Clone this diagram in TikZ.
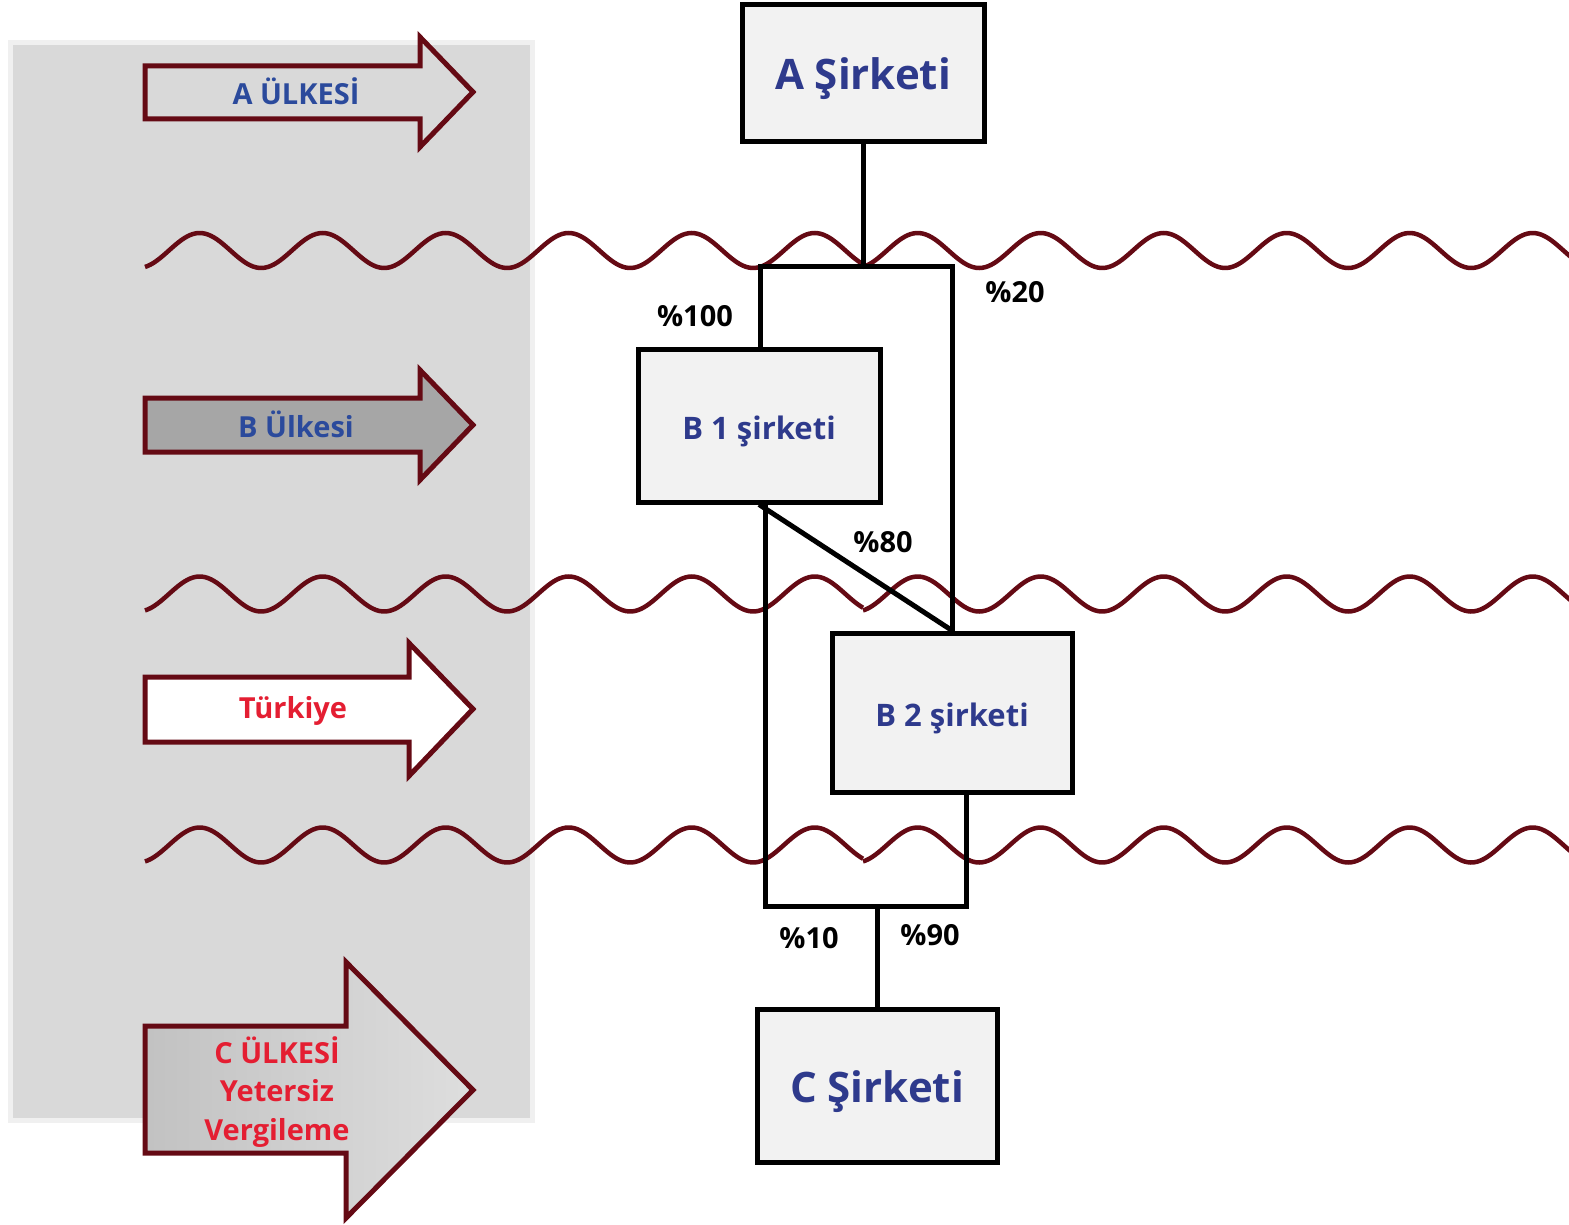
\documentclass[tikz,border=0pt]{standalone}
\usepackage{fontspec}
\setmainfont{Open Sans}
\definecolor{maroon}{HTML}{650A14}
\definecolor{panel}{HTML}{D9D9D9}
\definecolor{panelrim}{HTML}{F0F0F0}
\definecolor{boxfill}{HTML}{F2F2F2}
\definecolor{tblue}{HTML}{2E3A8C}
\definecolor{ablue}{HTML}{2B4A9C}
\definecolor{tred}{HTML}{E41E32}
\definecolor{bgray}{HTML}{A6A6A6}
\begin{document}
\begin{tikzpicture}[x=1pt,y=-1pt,
  wave/.style={draw=maroon, line width=4.5pt},
  arrowshape/.style={draw=maroon, line width=5pt, line join=miter, miter limit=10},
  company/.style={draw=black, line width=5pt, fill=boxfill, inner sep=0pt, text=tblue, text depth=0pt},
  bigname/.style={font=\bfseries\fontsize{42}{48}\selectfont, text height=33pt},
  smallname/.style={font=\bfseries\fontsize{31}{36}\selectfont, text height=27pt},
  link/.style={draw=black, line width=5pt, line join=miter},
  pct/.style={font=\bfseries\fontsize{29}{34}\selectfont, text=black, inner sep=0pt},
  country/.style={font=\bfseries\fontsize{29}{38.5}\selectfont, align=center, inner sep=0pt}
]
\useasboundingbox (0,0) rectangle (1569,1225);
% background panel
\fill[panel, draw=panelrim, line width=5pt] (10,43) rectangle (532,1120);

% country arrows
\filldraw[arrowshape, fill=panel] (145,66) -- (420,66) -- (420,37) -- (473,92) -- (420,147) -- (420,119) -- (145,119) -- cycle;
\node[country, text=ablue] (tA) at (296,91) {A ÜLKESİ};

\filldraw[arrowshape, fill=bgray] (145,398) -- (420,398) -- (420,370) -- (473,425) -- (420,480) -- (420,452) -- (145,452) -- cycle;
\node[country, text=ablue] (tB) at (296,424) {B Ülkesi};

\filldraw[arrowshape, fill=white] (145,677) -- (409,677) -- (409,643) -- (473,709) -- (409,776) -- (409,742) -- (145,742) -- cycle;
\node[country, text=tred] (tT) at (293,711) {Türkiye};

\shade[left color=black!24, right color=black!13] (145,1026) -- (346,1026) -- (346,962) -- (473,1090) -- (346,1218) -- (346,1153) -- (145,1153) -- cycle;
\draw[arrowshape] (145,1026) -- (346,1026) -- (346,962) -- (473,1090) -- (346,1218) -- (346,1153) -- (145,1153) -- cycle;
\node[country, text=tred] (tC) at (277,1092) {C ÜLKESİ\\Yetersiz\\Vergileme};

% border waves
\foreach \c in {250.5,594,845}{
  \draw[wave] plot[domain=145:863, samples=240, smooth] (\x, {\c-17.5*sin(-70+(\x-145)*2.92683)});
  \draw[wave] plot[domain=863:1575, samples=240, smooth] (\x, {\c-17.5*sin(-70+(\x-863)*2.92683)});
}

% companies
\node[company, bigname, minimum width=242pt, minimum height=137pt] (A) at (863,73.5) {A Şirketi};
\node[company, smallname, minimum width=242pt, minimum height=153pt] (B1) at (759,425.5) {B 1 şirketi};
\node[company, smallname, minimum width=240pt, minimum height=159pt] (B2) at (952,712.5) {B 2 şirketi};
\node[company, bigname, minimum width=240pt, minimum height=153pt] (C) at (877,1085.5) {C Şirketi};

% ownership links
\coordinate (top) at (863,266);
\coordinate (tl) at (760,266);
\coordinate (tr) at (952,266);
\coordinate (bl) at (765,906);
\coordinate (br) at (966,906);
\coordinate (bm) at (877,906);
\draw[link] (A.south) -- (top);
\draw[link] (B1.north -| tl) -- (tl) -- (tr) -- (tr |- B2.north);
\draw[link] (B1.south) -- (B2.north);
\draw[link] (B1.south -| bl) -- (bl) -- (br) -- (br |- B2.south);
\draw[link] (bm) -- (C.north);

% percentages
\node[pct] (p100) at (695,316) {\%100};
\node[pct] (p20) at (1015,292) {\%20};
\node[pct] (p80) at (883,542) {\%80};
\node[pct] (p10) at (809,938) {\%10};
\node[pct] (p90) at (930,935) {\%90};
\end{tikzpicture}
\end{document}
